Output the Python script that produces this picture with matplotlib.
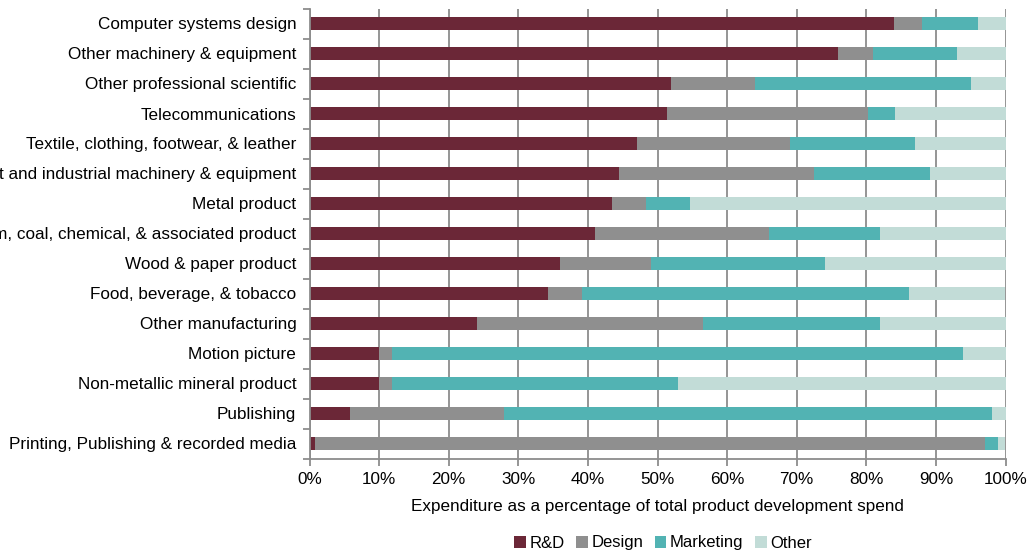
import numpy as np
import matplotlib.pyplot as plt
from matplotlib.patches import Patch

plt.rcParams['font.family'] = ['Liberation Sans', 'DejaVu Sans']

industries = [
    "Computer systems design",
    "Other machinery & equipment",
    "Other professional scientific",
    "Telecommunications",
    "Textile, clothing, footwear, & leather",
    "Transport and industrial machinery & equipment",
    "Metal product",
    "Petroleum, coal, chemical, & associated product",
    "Wood & paper product",
    "Food, beverage, & tobacco",
    "Other manufacturing",
    "Motion picture",
    "Non-metallic mineral product",
    "Publishing",
    "Printing, Publishing & recorded media",
]

rnd = [84.0, 76.0, 52.0, 51.4, 47.0, 44.5, 43.4, 41.0, 36.0, 34.3, 24.0, 10.0, 10.0, 5.8, 0.8]
design = [4.0, 5.0, 12.0, 28.9, 22.0, 28.0, 5.0, 25.0, 13.0, 4.8, 32.5, 1.8, 1.8, 22.2, 96.3]
marketing = [8.0, 12.0, 31.0, 3.8, 18.0, 16.7, 6.2, 16.0, 25.0, 47.1, 25.4, 82.1, 41.1, 70.1, 1.8]
other = [4.0, 7.0, 5.0, 15.9, 13.0, 10.8, 45.4, 18.0, 26.0, 13.8, 18.1, 6.1, 47.1, 1.9, 1.1]

series = [("R&D", rnd, "#6b2737"),
          ("Design", design, "#8f8f8f"),
          ("Marketing", marketing, "#52b3b3"),
          ("Other", other, "#c2dcd7")]

fig = plt.figure(figsize=(10.32, 5.53), dpi=100)
ax = fig.add_axes([309.5 / 1032, 1 - 458.5 / 553, 696 / 1032, 450 / 553])

y = np.arange(len(industries))
left = np.zeros(len(industries))
for name, vals, col in series:
    vals = np.array(vals)
    ax.barh(y, vals, left=left, height=0.42, color=col, zorder=2, linewidth=0)
    left += vals

ax.set_xlim(0, 100)
ax.set_ylim(len(industries) - 0.5, -0.5)

ax.set_xticks(np.arange(0, 101, 10))
ax.set_xticklabels([f"{v}%" for v in range(0, 101, 10)], fontsize=12.3)
ax.xaxis.grid(True, color="#8c8c8c", linewidth=1.3, zorder=0)
ax.set_axisbelow(True)

ax.set_yticks(y)
ax.set_yticklabels(industries, fontsize=12.3)
ax.tick_params(axis="y", length=0, pad=9.5)
ax.set_yticks(np.arange(-0.5, len(industries)), minor=True)
ax.tick_params(axis="y", which="minor", length=5, color="#8c8c8c", width=1.3)
ax.tick_params(axis="x", length=5, color="#8c8c8c", width=1.3, pad=5)

for s in ["top", "right"]:
    ax.spines[s].set_visible(False)
for s in ["left", "bottom"]:
    ax.spines[s].set_color("#8c8c8c")
    ax.spines[s].set_linewidth(1.3)

ax.set_xlabel("Expenditure as a percentage of total product development spend",
              fontsize=12.3, labelpad=8)

handles = [Patch(facecolor=col, label=name) for name, _, col in series]
fig.legend(handles=handles, loc="center", bbox_to_anchor=(663 / 1032, 1 - 543 / 553),
           ncol=4, frameon=False, fontsize=12, handlelength=0.7, handleheight=0.7,
           handletextpad=0.2, columnspacing=0.7)

fig.savefig("out.png", dpi=100)
